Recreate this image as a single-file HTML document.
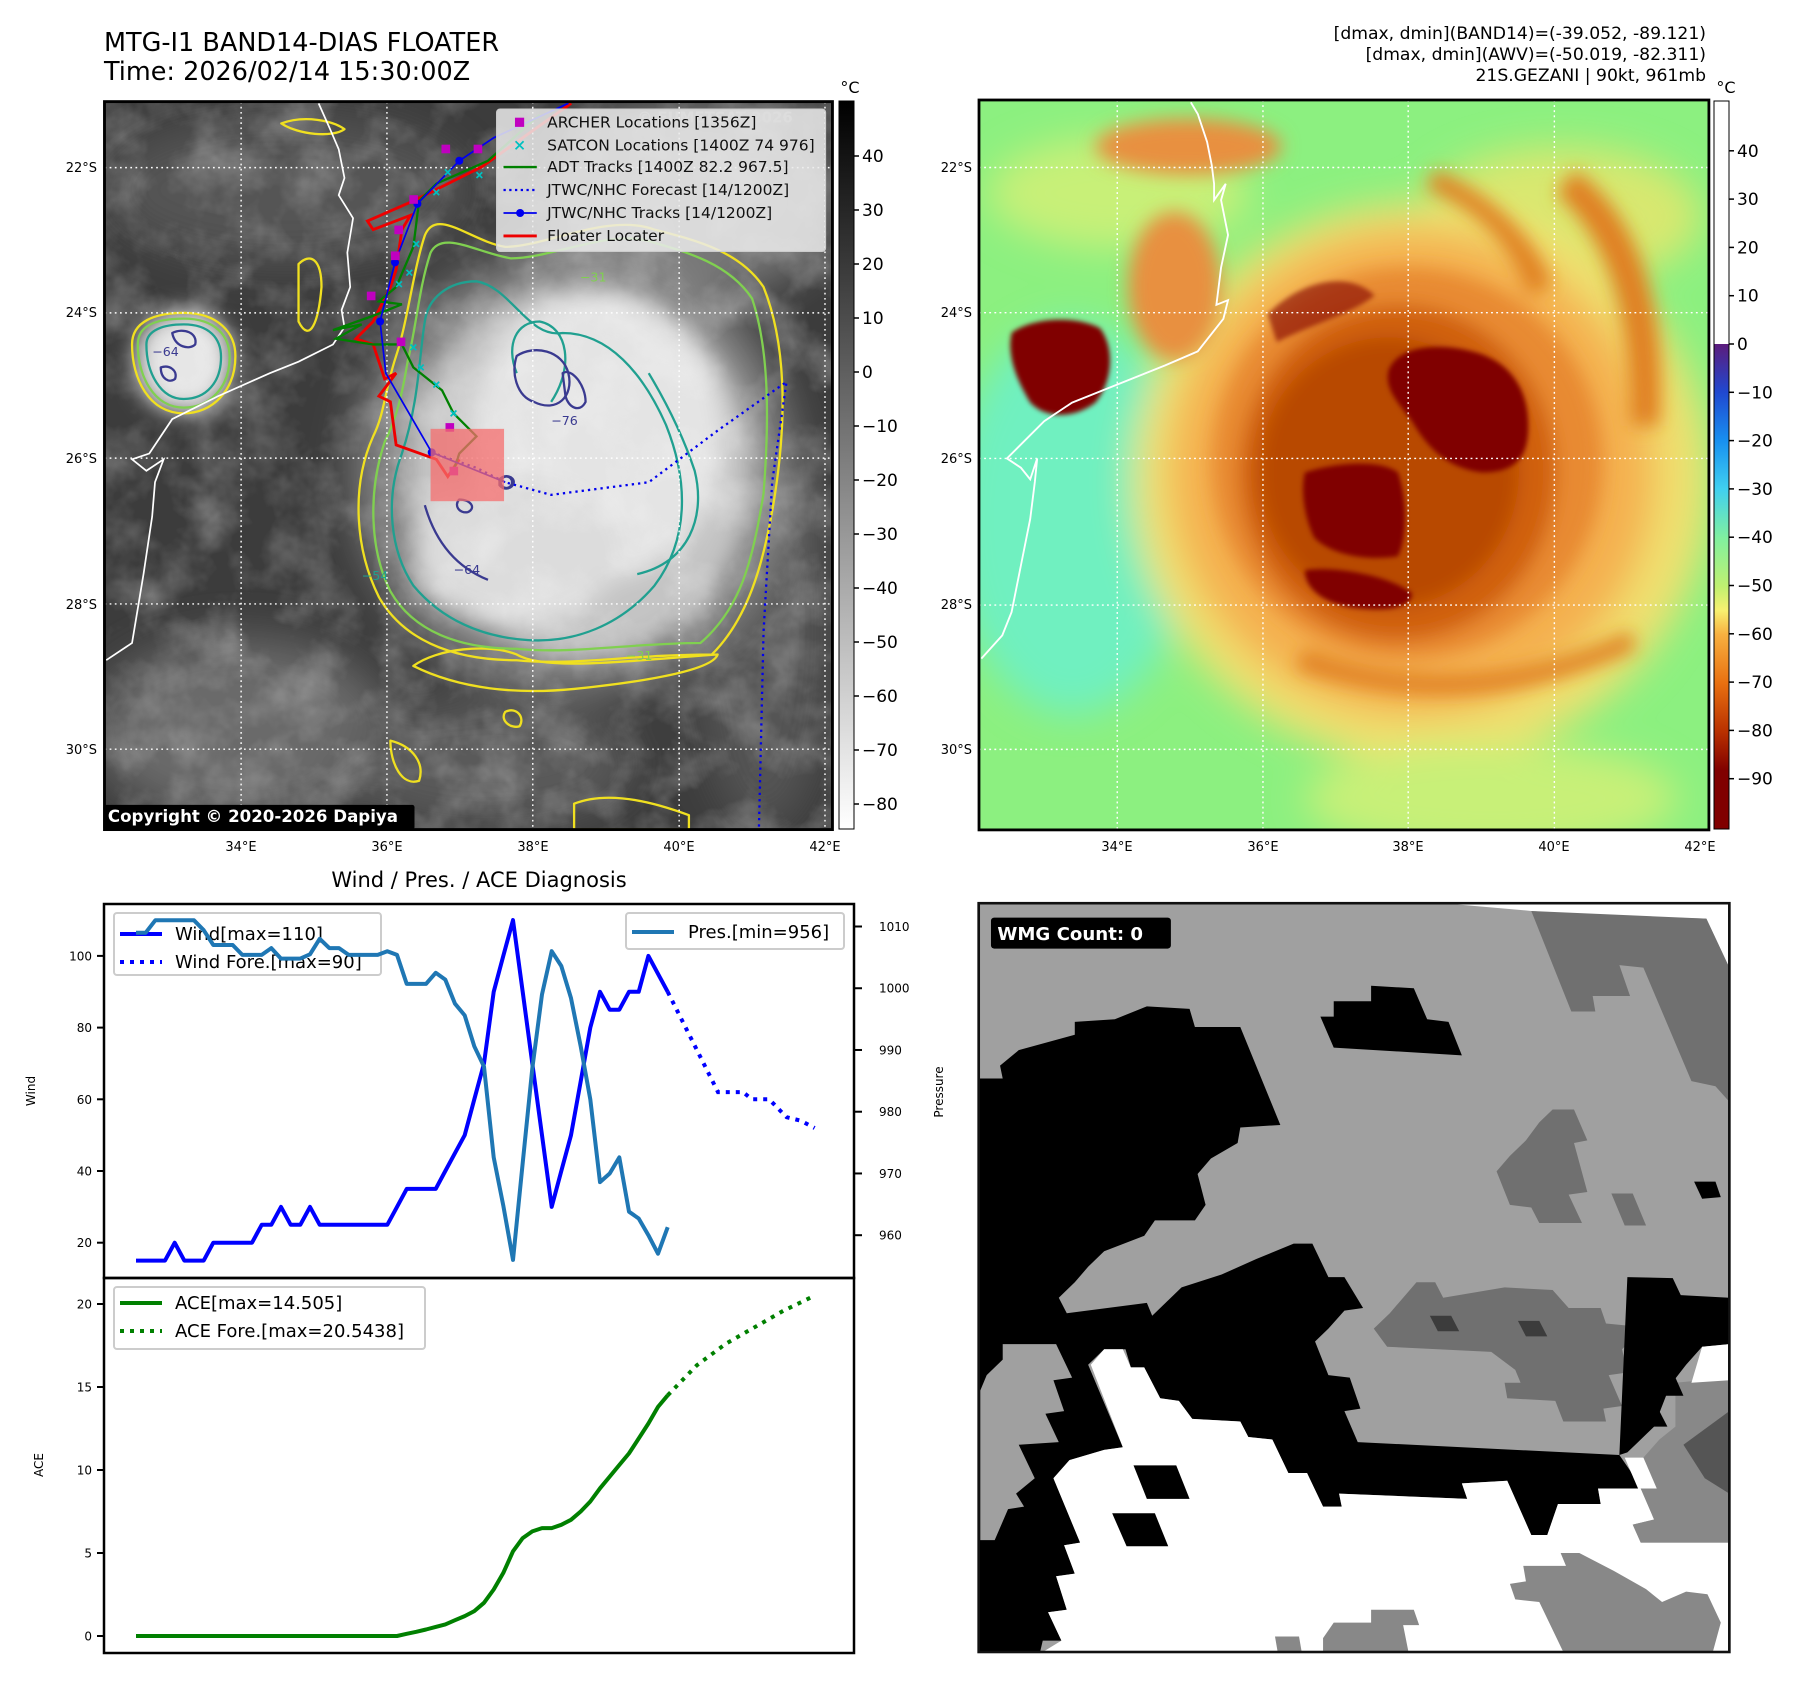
<!DOCTYPE html>
<html><head><meta charset="utf-8">
<style>
html,body{margin:0;padding:0;background:#fff;}
body{width:1797px;height:1690px;overflow:hidden;position:relative;font-family:"DejaVu Sans","Liberation Sans",sans-serif;}
svg text{font-family:"DejaVu Sans","Liberation Sans",sans-serif;}
</style></head>
<body>
<svg id="fig" width="1797" height="1690" viewBox="0 0 1797 1690" xmlns="http://www.w3.org/2000/svg" style="position:absolute;left:0;top:0">
<defs>
  <filter id="b40" x="-50%" y="-50%" width="200%" height="200%"><feGaussianBlur stdDeviation="40"/></filter>
  <filter id="b20" x="-50%" y="-50%" width="200%" height="200%"><feGaussianBlur stdDeviation="20"/></filter>
  <filter id="b10" x="-50%" y="-50%" width="200%" height="200%"><feGaussianBlur stdDeviation="10"/></filter>
  <filter id="b5" x="-50%" y="-50%" width="200%" height="200%"><feGaussianBlur stdDeviation="5"/></filter>
  <filter id="tex" x="0" y="0" width="100%" height="100%">
    <feTurbulence type="fractalNoise" baseFrequency="0.012" numOctaves="4" seed="3"/>
    <feColorMatrix type="matrix" values="0 0 0 0 1  0 0 0 0 1  0 0 0 0 1  0.9 0.9 0 0 -0.75"/>
  </filter>
  <clipPath id="clip1"><rect x="182" y="177" width="1268" height="1268"/></clipPath>
  <clipPath id="clip2"><rect x="0" y="0" width="1568" height="1568"/></clipPath>
  <clipPath id="clip3"><rect x="35" y="45" width="1406" height="1452"/></clipPath>
  <linearGradient id="cb1" x1="0" y1="0" x2="0" y2="1">
    <stop offset="0" stop-color="#000"/><stop offset="1" stop-color="#fff"/>
  </linearGradient>
  <linearGradient id="cb2" x1="0" y1="0" x2="0" y2="1">
    <stop offset="0" stop-color="#fff"/>
    <stop offset="0.3337" stop-color="#fff"/>
    <stop offset="0.3338" stop-color="#5c1c7c"/>
    <stop offset="0.40" stop-color="#2048d0"/>
    <stop offset="0.467" stop-color="#1890f0"/>
    <stop offset="0.533" stop-color="#40d0f0"/>
    <stop offset="0.60" stop-color="#80f0a0"/>
    <stop offset="0.667" stop-color="#c0f070"/>
    <stop offset="0.70" stop-color="#f8f070"/>
    <stop offset="0.733" stop-color="#f8b040"/>
    <stop offset="0.80" stop-color="#e87010"/>
    <stop offset="0.867" stop-color="#b83000"/>
    <stop offset="0.92" stop-color="#800000"/>
    <stop offset="1" stop-color="#800000"/>
  </linearGradient>
</defs>

<!-- ================= TOP LEFT MAP ================= -->
<text x="104" y="51" font-size="25.5">MTG-I1 BAND14-DIAS FLOATER</text>
<text x="104" y="80" font-size="25.5">Time: 2026/02/14 15:30:00Z</text>

<g transform="scale(0.5741)">
  <g clip-path="url(#clip1)">
    <rect x="182" y="177" width="1268" height="1268" fill="#3c3c3c"/>
    <g filter="url(#b40)">
      <ellipse cx="500" cy="330" rx="320" ry="130" fill="#555"/>
      <ellipse cx="1200" cy="350" rx="260" ry="170" fill="#777"/>
      <ellipse cx="420" cy="1270" rx="260" ry="160" fill="#6a6a6a"/>
      <ellipse cx="850" cy="1330" rx="260" ry="110" fill="#5a5a5a"/>
      <ellipse cx="1330" cy="1100" rx="120" ry="350" fill="#555"/>
      <ellipse cx="1000" cy="820" rx="380" ry="380" fill="#8a8a8a"/>
    </g>
    <g filter="url(#b20)">
      <ellipse cx="1010" cy="820" rx="300" ry="320" fill="#c4c4c4"/>
      <ellipse cx="1040" cy="760" rx="220" ry="250" fill="#e4e4e4"/>
      <ellipse cx="900" cy="960" rx="180" ry="130" fill="#dcdcdc"/>
      <ellipse cx="320" cy="630" rx="85" ry="90" fill="#e6e6e6"/>
    </g>
    <rect x="182" y="177" width="1268" height="1268" filter="url(#tex)" opacity="0.4"/>
    <g fill="none" stroke-width="4" stroke-linejoin="round">
      <path stroke="#f0e020" d="M650,760 C610,850 620,960 660,1040 C700,1110 780,1150 900,1150 C1000,1160 1100,1140 1240,1140 C1300,1080 1330,990 1350,860 C1370,730 1370,600 1330,500 C1290,440 1220,420 1140,400 C1060,370 950,430 880,430 C820,420 760,360 740,410 C720,470 710,560 690,620 C670,680 670,720 650,760 Z"/>
      <path stroke="#f0e020" d="M230,600 C230,560 270,545 320,545 C380,545 410,580 410,620 C410,680 370,720 320,720 C260,720 230,660 230,600 Z"/>
      <path stroke="#f0e020" d="M720,1160 C760,1130 850,1120 900,1140 C950,1170 1100,1150 1250,1140 C1240,1170 1100,1190 1000,1200 C900,1210 800,1200 720,1160 Z"/>
      <path stroke="#f0e020" d="M520,460 C540,440 560,450 560,500 C555,560 540,600 520,560 Z"/>
      <path stroke="#f0e020" d="M490,215 C530,200 580,210 600,225 C580,240 520,235 490,215 Z"/>
      <path stroke="#f0e020" d="M1000,1400 C1050,1380 1120,1390 1200,1420 L1200,1445 L1000,1445 Z"/>
      <path stroke="#f0e020" d="M880,1240 C900,1230 915,1250 905,1265 C890,1270 870,1255 880,1240 Z"/>
      <path stroke="#f0e020" d="M680,1290 C720,1300 740,1330 730,1360 C700,1370 680,1330 680,1290 Z"/>
      <path stroke="#80d050" d="M670,770 C640,860 645,960 680,1030 C720,1100 800,1130 900,1130 C1000,1140 1100,1120 1220,1120 C1290,1060 1310,980 1330,860 C1340,730 1340,610 1310,520 C1270,460 1200,440 1130,420 C1060,400 960,450 890,450 C830,440 770,400 750,440 C730,500 725,570 710,630 C700,690 690,730 670,770 Z"/>
      <path stroke="#80d050" d="M240,600 C240,565 275,555 320,555 C375,555 400,585 400,622 C400,675 365,710 320,710 C268,710 240,655 240,600 Z"/>
      <path stroke="#20a090" d="M700,790 C670,870 680,960 720,1020 C770,1080 840,1110 920,1115 C1000,1120 1080,1090 1140,1020 C1200,940 1200,840 1160,740 C1120,650 1060,580 980,580 C920,590 890,500 830,490 C780,490 745,520 740,560 C730,620 730,700 700,790 Z"/>
      <path stroke="#20a090" d="M255,600 C255,575 285,565 320,565 C365,565 385,590 385,622 C385,665 360,695 320,695 C280,695 255,650 255,600 Z"/>
      <path stroke="#20a090" d="M1110,1000 C1200,980 1230,900 1210,820 C1190,760 1160,700 1130,650"/>
      <path stroke="#20a090" d="M900,650 C880,600 900,560 940,560 C990,570 1000,640 960,700"/>
      <path stroke="#3a3a90" d="M900,620 C930,600 980,610 990,650 C1000,690 970,720 930,700 C900,690 890,650 900,620 Z"/>
      <path stroke="#3a3a90" d="M740,880 C760,950 800,990 850,1010"/>
      <path stroke="#3a3a90" d="M870,835 C880,825 895,830 895,840 C893,852 878,855 870,845 Z"/>
      <path stroke="#3a3a90" d="M800,870 C820,870 830,885 815,892 C800,895 790,880 800,870 Z"/>
      <path stroke="#3a3a90" d="M300,580 C320,570 345,580 340,600 C330,610 305,605 300,580 Z"/>
      <path stroke="#3a3a90" d="M280,640 C295,635 310,645 305,660 C295,668 280,660 280,640 Z"/>
      <path stroke="#3a3a90" d="M980,650 C995,640 1020,670 1020,700 C1010,720 990,710 985,690 Z"/>
    </g>
    <g font-size="22" fill="#20a090">
      <text x="960" y="740" fill="#3a3a90">−76</text>
      <text x="790" y="1000" fill="#3a3a90">−64</text>
      <text x="265" y="620" fill="#3a3a90">−64</text>
      <text x="630" y="1010">−54</text>
      <text x="1010" y="490" fill="#80d050">−31</text>
      <text x="1090" y="1150" fill="#80d050">−31</text>
    </g>
    <g stroke="#fff" stroke-width="2.5" stroke-dasharray="3,6">
      <line x1="182" y1="292" x2="1450" y2="292"/><line x1="182" y1="545" x2="1450" y2="545"/>
      <line x1="182" y1="798" x2="1450" y2="798"/><line x1="182" y1="1052" x2="1450" y2="1052"/>
      <line x1="182" y1="1305" x2="1450" y2="1305"/>
      <line x1="420" y1="177" x2="420" y2="1445"/><line x1="674" y1="177" x2="674" y2="1445"/>
      <line x1="928" y1="177" x2="928" y2="1445"/><line x1="1183" y1="177" x2="1183" y2="1445"/>
      <line x1="1437" y1="177" x2="1437" y2="1445"/>
    </g>
    <path fill="none" stroke="#fff" stroke-width="3" d="M555,180 L575,225 L590,260 L600,310 L590,340 L615,380 L605,440 L610,500 L595,540 L600,570 L580,600 L520,630 L470,650 L380,690 L300,730 L260,790 L230,800 L255,820 L285,800 L270,840 L265,900 L250,1000 L240,1060 L230,1120 L185,1150"/>
    <path fill="none" stroke="#0000ee" stroke-width="4" stroke-dasharray="4,7" d="M752,788 L830,815 L880,840 L960,862 L1130,840 L1250,750 L1370,665 L1345,840 L1330,1100 L1322,1440"/>
    <path fill="none" stroke="#ee0000" stroke-width="5" d="M995,180 L840,290 L720,350 L640,385 L650,400 L715,375 L700,400 L690,470 L680,500 L650,560 L620,590 L650,600 L670,660 L690,650 L660,690 L680,700 L690,775 L760,800 L780,830 L800,800"/>
    <path fill="none" stroke="#008000" stroke-width="4" d="M940,200 L850,280 L760,320 L730,350 L720,430 L690,500 L660,525 L700,530 L650,550 L580,575 L630,565 L585,590 L650,600 L700,600 L720,640 L770,680 L790,720 L830,760 L800,790 L790,820"/>
    <path fill="none" stroke="#0000ee" stroke-width="3" d="M990,180 L860,240 L800,280 L727,355 L688,457 L662,560 L672,650 L752,788 L880,840"/>
    <g fill="#0000ee">
      <circle cx="800" cy="280" r="7"/><circle cx="727" cy="355" r="7"/><circle cx="688" cy="457" r="7"/><circle cx="662" cy="560" r="7"/><circle cx="752" cy="788" r="7"/>
    </g>
    <circle cx="882" cy="840" r="10" fill="none" stroke="#3a3a90" stroke-width="4"/>
    <g fill="#c000c0">
      <rect x="769" y="252" width="15" height="15"/><rect x="825" y="252" width="15" height="15"/><rect x="713" y="340" width="15" height="15"/><rect x="687" y="393" width="15" height="15"/><rect x="681" y="438" width="15" height="15"/><rect x="639" y="508" width="15" height="15"/><rect x="691" y="588" width="15" height="15"/><rect x="776" y="737" width="15" height="15"/><rect x="783" y="813" width="15" height="15"/>
    </g>
    <g stroke="#00c0c0" stroke-width="3">
      <path d="M775,295 l10,10 m0,-10 l-10,10 M755,330 l10,10 m0,-10 l-10,10 M720,420 l10,10 m0,-10 l-10,10 M708,470 l10,10 m0,-10 l-10,10 M690,490 l10,10 m0,-10 l-10,10 M728,635 l10,10 m0,-10 l-10,10 M755,665 l10,10 m0,-10 l-10,10 M785,715 l10,10 m0,-10 l-10,10 M715,600 l10,10 m0,-10 l-10,10 M830,300 l10,10 m0,-10 l-10,10"/>
    </g>
    <rect x="750" y="747" width="128" height="126" fill="rgba(245,110,110,0.75)"/>
  </g>
  <rect x="182" y="177" width="1268" height="1268" fill="none" stroke="#000" stroke-width="5"/>
  <g>
    <rect x="865" y="190" width="573" height="248" rx="6" fill="rgba(235,235,235,0.85)" stroke="#ccc" stroke-width="2"/>
    <text x="1110" y="213" font-size="26" font-weight="bold" fill="#ddd">© EUMETSAT 2026</text>
    <rect x="897" y="205" width="16" height="16" fill="#c000c0"/>
    <path d="M898,246 l14,14 m0,-14 l-14,14" stroke="#00c0c0" stroke-width="3"/>
    <line x1="877" y1="291" x2="935" y2="291" stroke="#008000" stroke-width="4"/>
    <line x1="877" y1="331" x2="935" y2="331" stroke="#0000ee" stroke-width="4" stroke-dasharray="4,6"/>
    <line x1="877" y1="371" x2="935" y2="371" stroke="#0000ee" stroke-width="3"/><circle cx="906" cy="371" r="7" fill="#0000ee"/>
    <line x1="877" y1="411" x2="935" y2="411" stroke="#ee0000" stroke-width="5"/>
    <g font-size="27" fill="#111">
      <text x="953" y="222">ARCHER Locations [1356Z]</text>
      <text x="953" y="262">SATCON Locations [1400Z 74 976]</text>
      <text x="953" y="300">ADT Tracks [1400Z 82.2 967.5]</text>
      <text x="953" y="340">JTWC/NHC Forecast [14/1200Z]</text>
      <text x="953" y="380">JTWC/NHC Tracks [14/1200Z]</text>
      <text x="953" y="420">Floater Locater</text>
    </g>
  </g>
  <g>
    <rect x="180" y="1402" width="542" height="43" rx="4" fill="#000"/>
    <text x="188" y="1432" font-size="29" font-weight="bold" fill="#fff">Copyright © 2020-2026 Dapiya</text>
  </g>
</g>

<g font-size="13" text-anchor="end">
  <text x="97" y="172">22°S</text><text x="97" y="317">24°S</text><text x="97" y="463">26°S</text><text x="97" y="609">28°S</text><text x="97" y="754">30°S</text>
</g>
<g font-size="13" text-anchor="middle">
  <text x="241" y="851">34°E</text><text x="387" y="851">36°E</text><text x="533" y="851">38°E</text><text x="679" y="851">40°E</text><text x="825" y="851">42°E</text>
</g>
<g>
  <rect x="839" y="101" width="15" height="728" fill="url(#cb1)" stroke="#000" stroke-width="1"/>
  <text x="850" y="93" font-size="16" text-anchor="middle">°C</text>
  <g id="cb1ticks" font-size="17"></g>
</g>

<!-- ================= TOP RIGHT MAP ================= -->
<g transform="translate(979,100) scale(0.4655)">
  <g clip-path="url(#clip2)">
    <rect x="0" y="0" width="1568" height="1568" fill="#8cf080"/>
    <g filter="url(#b40)">
      <ellipse cx="200" cy="900" rx="260" ry="420" fill="#70f0c0"/>
      <ellipse cx="300" cy="200" rx="280" ry="120" fill="#c8f078"/>
      <ellipse cx="1250" cy="250" rx="300" ry="150" fill="#d8e870"/>
      <ellipse cx="950" cy="820" rx="620" ry="600" fill="#f0e070"/>
      <ellipse cx="930" cy="800" rx="520" ry="520" fill="#f4b050"/>
      <ellipse cx="1100" cy="1500" rx="400" ry="120" fill="#c8f078"/>
    </g>
    <g filter="url(#b20)">
      <ellipse cx="920" cy="780" rx="420" ry="420" fill="#e88a30"/>
      <ellipse cx="900" cy="800" rx="340" ry="360" fill="#d06010"/>
      <ellipse cx="880" cy="800" rx="280" ry="290" fill="#b84800"/>
      <path d="M1280,150 C1420,250 1480,450 1460,700 L1400,700 C1400,450 1350,300 1240,200 Z" fill="#e08020"/>
      <path d="M980,150 C1100,200 1200,300 1230,400 L1180,420 C1140,300 1060,230 960,190 Z" fill="#e08020"/>
      <path d="M700,1180 C900,1260 1150,1260 1400,1140 L1410,1180 C1150,1300 900,1300 680,1220 Z" fill="#e08020"/>
      <ellipse cx="450" cy="100" rx="200" ry="60" fill="#e89040"/>
      <ellipse cx="420" cy="400" rx="100" ry="160" fill="#e89040"/>
    </g>
    <g filter="url(#b5)" fill="#800000">
      <path d="M880,580 C900,530 980,520 1060,540 C1140,560 1180,620 1180,700 C1180,770 1150,800 1080,800 C1000,790 960,740 930,690 C900,650 870,620 880,580 Z"/>
      <path d="M700,800 C760,780 860,770 900,800 C920,860 920,940 900,980 C840,990 760,980 720,940 C700,900 690,840 700,800 Z"/>
      <path d="M700,1010 C760,1000 880,1020 930,1060 C930,1090 880,1100 800,1090 C740,1080 700,1050 700,1010 Z"/>
      <path d="M70,500 C110,470 200,460 260,490 C290,530 290,600 250,650 C210,680 150,690 110,650 C80,600 60,550 70,500 Z"/>
      <path d="M620,460 C700,380 800,370 850,420 C800,460 720,480 640,520 Z" opacity="0.6"/>
    </g>
    <g stroke="#fff" stroke-width="3" stroke-dasharray="4,7">
      <line x1="0" y1="145" x2="1568" y2="145"/><line x1="0" y1="457" x2="1568" y2="457"/>
      <line x1="0" y1="770" x2="1568" y2="770"/><line x1="0" y1="1085" x2="1568" y2="1085"/>
      <line x1="0" y1="1395" x2="1568" y2="1395"/>
      <line x1="297" y1="0" x2="297" y2="1568"/><line x1="610" y1="0" x2="610" y2="1568"/>
      <line x1="922" y1="0" x2="922" y2="1568"/><line x1="1236" y1="0" x2="1236" y2="1568"/>
    </g>
    <path fill="none" stroke="#fff" stroke-width="4" d="M455,5 L470,30 L490,90 L500,140 L505,180 L505,215 L530,180 L520,215 L535,290 L520,360 L510,440 L535,430 L525,470 L470,540 L400,570 L300,610 L200,650 L140,690 L100,730 L60,770 L90,790 L110,815 L125,770 L120,820 L110,900 L90,1000 L70,1100 L50,1150 L5,1200"/>
  </g>
  <rect x="0" y="0" width="1568" height="1568" fill="none" stroke="#000" stroke-width="6"/>
</g>
<g font-size="13" text-anchor="end">
  <text x="972" y="172">22°S</text><text x="972" y="317">24°S</text><text x="972" y="463">26°S</text><text x="972" y="609">28°S</text><text x="972" y="754">30°S</text>
</g>
<g font-size="13" text-anchor="middle">
  <text x="1117" y="851">34°E</text><text x="1263" y="851">36°E</text><text x="1408" y="851">38°E</text><text x="1554" y="851">40°E</text><text x="1700" y="851">42°E</text>
</g>
<g font-size="17.2" text-anchor="end">
  <text x="1706" y="39">[dmax, dmin](BAND14)=(-39.052, -89.121)</text>
  <text x="1706" y="60">[dmax, dmin](AWV)=(-50.019, -82.311)</text>
  <text x="1706" y="81">21S.GEZANI | 90kt, 961mb</text>
</g>
<g>
  <rect x="1714" y="101" width="15" height="728" fill="url(#cb2)" stroke="#000" stroke-width="1"/>
  <text x="1726" y="93" font-size="16" text-anchor="middle">°C</text>
  <g id="cb2ticks" font-size="17"></g>
</g>

<!-- ================= WMG PANEL ================= -->
<g transform="translate(960,880) scale(0.5339,0.5157)">
  <g clip-path="url(#clip3)">
    <rect x="35" y="45" width="1406" height="1452" fill="#a0a0a0"/>
    <polygon fill="#fff" points="905,45 1441,45 1441,170 1398,75 1170,68 1070,60"/>
    <polygon fill="#707070" points="1070,60 1398,75 1441,170 1441,430 1415,400 1370,390 1280,170 1235,165 1255,225 1185,225 1190,255 1145,255"/>
    <polygon fill="#000" points="38,385 80,385 75,360 110,330 215,300 215,275 290,270 350,245 430,250 440,285 525,285 600,475 525,480 520,510 470,540 445,570 460,630 440,660 365,660 345,690 270,720 240,750 215,780 185,810 200,840 350,820 360,845 415,790 490,765 555,735 625,705 660,705 690,770 720,770 755,830 720,835 690,870 665,895 690,960 730,965 750,1025 720,1030 745,1090 1235,1115 1255,1145 1275,1180 1195,1180 1200,1210 1120,1210 1100,1270 1070,1270 1025,1165 940,1170 950,1200 710,1190 715,1215 680,1215 650,1150 615,1150 585,1085 540,1080 525,1050 435,1045 410,1010 375,1005 345,945 320,945 310,910 270,910 240,940 305,1100 270,1105 205,1125 175,1160 225,1285 195,1290 215,1345 180,1350 200,1415 165,1420 190,1475 155,1475 150,1497 35,1497 35,385"/>
    <polygon fill="#a0a0a0" points="38,990 50,960 80,930 80,900 180,900 210,965 175,970 195,1030 160,1035 185,1090 110,1095 140,1160 105,1190 120,1215 90,1220 65,1280 38,1280"/>
    <polygon fill="#fff" points="245,940 270,910 305,910 320,945 345,945 375,1005 410,1010 435,1045 525,1050 540,1080 585,1085 615,1150 650,1150 680,1215 715,1215 710,1190 950,1200 940,1170 1025,1165 1070,1270 1100,1270 1120,1210 1200,1210 1195,1180 1275,1180 1300,1240 1260,1250 1275,1285 1441,1285 1441,1497 155,1497 190,1475 165,1420 200,1415 180,1350 215,1345 195,1290 225,1285 175,1160 205,1125 270,1105 305,1100"/>
    <polygon fill="#888" points="1030,1365 1060,1360 1055,1330 1135,1330 1125,1305 1160,1305 1225,1340 1285,1375 1315,1400 1360,1380 1400,1385 1425,1440 1410,1497 1130,1497 1085,1400 1040,1395"/>
    <polygon fill="#888" points="590,1467 635,1467 640,1497 595,1497"/>
    <polygon fill="#888" points="680,1470 700,1440 770,1440 770,1415 850,1415 860,1445 830,1445 840,1497 680,1497"/>
    <polygon fill="#000" points="675,265 700,265 700,235 770,235 770,205 850,210 875,270 915,275 940,340 700,325"/>
    <polygon fill="#000" points="325,1135 405,1135 430,1200 350,1200"/>
    <polygon fill="#000" points="285,1228 365,1228 390,1292 312,1292"/>
    <polygon fill="#000" points="1375,585 1415,585 1425,615 1390,618"/>
    <polygon fill="#707070" points="1005,565 1030,535 1060,505 1085,470 1110,445 1150,445 1175,505 1150,510 1175,605 1140,610 1165,665 1085,665 1070,635 1030,630"/>
    <polygon fill="#707070" points="1220,608 1260,608 1285,670 1245,670"/>
    <polygon fill="#707070" points="775,870 805,840 830,810 855,780 890,780 905,810 1020,790 1110,795 1140,830 1200,830 1210,860 1260,865 1260,890 1240,910 1250,955 1215,960 1240,1020 1205,1025 1210,1050 1130,1050 1115,1010 1025,1005 1020,975 1050,975 1040,950 995,915 800,905"/>
    <polygon fill="#3c3c3c" points="880,845 920,845 935,875 895,875"/>
    <polygon fill="#3c3c3c" points="1045,855 1085,855 1100,885 1060,885"/>
    <polygon fill="#000" points="1250,770 1335,772 1350,805 1441,810 1441,900 1390,905 1360,940 1330,980 1300,1060 1270,1090 1250,1110 1235,1115"/>
    <polygon fill="#888" points="1340,975 1441,965 1441,1285 1275,1285 1260,1250 1300,1240 1275,1180 1305,1180 1280,1120 1310,1085 1340,1060"/>
    <polygon fill="#fff" points="1390,905 1441,900 1441,970 1370,975"/>
    <polygon fill="#555" points="1355,1095 1441,1030 1441,1190 1395,1160"/>
    <polygon fill="#000" points="1300,965 1340,965 1355,1000 1315,1000"/>
    <polygon fill="#000" points="1270,1030 1310,1030 1325,1060 1285,1060"/>
    <polygon fill="#fff" points="1245,1120 1280,1120 1305,1180 1270,1180"/>
  </g>
  <rect x="35" y="45" width="1406" height="1452" fill="none" stroke="#111" stroke-width="5"/>
  <g>
    <rect x="58" y="73" width="337" height="60" rx="6" fill="#000"/>
    <text x="70" y="116" font-size="34" font-weight="bold" fill="#fff">WMG Count: 0</text>
  </g>
</g>

<!-- ================= DIAGNOSIS CHARTS ================= -->
<text x="479" y="887" font-size="21" text-anchor="middle">Wind / Pres. / ACE Diagnosis</text>
<g id="charts"></g>
<rect x="104" y="904" width="750" height="374" fill="none" stroke="#000" stroke-width="2.5"/>
<rect x="104" y="1278" width="750" height="375" fill="none" stroke="#000" stroke-width="2.5"/>
<text transform="translate(35,1091) rotate(-90)" font-size="12" text-anchor="middle">Wind</text>
<text transform="translate(943,1092) rotate(-90)" font-size="12" text-anchor="middle">Pressure</text>
<text transform="translate(43,1465) rotate(-90)" font-size="12" text-anchor="middle">ACE</text>
</svg>

<script>
const windIdx = [0,1,2,3,4,5,6,7,8,9,10,11,12,13,14,15,16,17,18,19,20,21,22,23,24,25,26,27,28,29,30,31,32,33,34,35,36,37,38,39,40,41,42,43,44,45,46,47,48,49,50,51,52,53,54,55];
const windVals = [15,15,15,15,20,15,15,15,20,20,20,20,20,25,25,30,25,25,30,25,25,25,25,25,25,25,25,30,35,35,35,35,40,45,50,60,70,90,100,110,90,70,50,30,40,50,65,80,90,85,85,90,90,100,95,90];
const windFcIdx = [55,60.2,62.8,63.7,65.5,67.3,68.8,70.2];
const windFcVals = [90,62,62,60,60,55,54,52];
const presVals = [1009,1009,1011,1011,1011,1011,1011,1009.4,1007,1007,1007,1005.4,1005.4,1005.4,1006.5,1004.8,1004.8,1004.8,1005.5,1008,1006.5,1006.5,1005.4,1005.4,1005.4,1005.4,1006,1005.4,1000.7,1000.7,1000.7,1002.5,1001.4,997.5,995.6,990.6,987.3,972.6,964.8,956,971.7,987,999,1006,1003.6,998.4,990.6,982,968.6,970,972.6,963.8,962.7,960,957,961.3];
const aceVals = [0,0,0,0,0,0,0,0,0,0,0,0,0,0,0,0,0,0,0,0,0,0,0,0,0,0,0,0,0.13,0.25,0.39,0.55,0.7,0.95,1.2,1.5,2.0,2.8,3.8,5.1,5.9,6.3,6.5,6.5,6.7,7.0,7.5,8.1,8.9,9.6,10.3,11.0,11.9,12.8,13.8,14.5];
const aceFcIdx = [55,58,61,64,67,70.2];
const aceFcVals = [14.5,16.3,17.6,18.6,19.6,20.5];
const windTicks = [20,40,60,80,100];
const presTicks = [960,970,980,990,1000,1010];
const aceTicks = [0,5,10,15,20];
const cb1Ticks = [40,30,20,10,0,-10,-20,-30,-40,-50,-60,-70,-80];
const cb2Ticks = [40,30,20,10,0,-10,-20,-30,-40,-50,-60,-70,-80,-90];

const xS = i => 136 + i * 9.667;
const yW = v => 1242.7 - (v - 20) * 3.585;
const yP = p => 1235.2 - (p - 960) * 6.174;
const yA = v => 1636 - v * 16.6;
const NS = 'http://www.w3.org/2000/svg';
const charts = document.getElementById('charts');
function mk(tag, attrs, parent) {
  const e = document.createElementNS(NS, tag);
  for (const k in attrs) e.setAttribute(k, attrs[k]);
  (parent || charts).appendChild(e);
  return e;
}
function pts(xs, ys, fy) { return xs.map((x, k) => xS(x).toFixed(1) + ',' + fy(ys[k]).toFixed(1)).join(' '); }

windTicks.forEach(v => {
  const t = mk('line', {x1: 97, x2: 104, y1: yW(v), y2: yW(v), stroke: '#000', 'stroke-width': 2});
  
  
  const l = mk('text', {x: 92, y: yW(v) + 4.5, 'font-size': 12, 'text-anchor': 'end'});
  l.textContent = v;
  
  
});
presTicks.forEach(v => {
  const t = mk('line', {x1: 854, x2: 862, y1: yP(v), y2: yP(v), stroke: '#000', 'stroke-width': 2});
  
  
  const l = mk('text', {x: 879, y: yP(v) + 4.5, 'font-size': 12});
  l.textContent = v;
  
  
});
aceTicks.forEach(v => {
  const t = mk('line', {x1: 97, x2: 104, y1: yA(v), y2: yA(v), stroke: '#000', 'stroke-width': 2});
  
  
  const l = mk('text', {x: 92, y: yA(v) + 4.5, 'font-size': 12, 'text-anchor': 'end'});
  l.textContent = v;
  
  
});

let s;
s = mk('polyline', {points: pts(windIdx, windVals, yW), fill: 'none', stroke: '#0000ff', 'stroke-width': 4, 'stroke-linejoin': 'round'});


s = mk('polyline', {points: pts(windFcIdx, windFcVals, yW), fill: 'none', stroke: '#0000ff', 'stroke-width': 4, 'stroke-dasharray': '4,6'});



const wl = mk('g', {});


mk('rect', {x: 114, y: 913, width: 267, height: 62, rx: 3, fill: 'rgba(255,255,255,0.8)', stroke: '#ccc', 'stroke-width': 2}, wl);
mk('line', {x1: 120, x2: 162, y1: 934, y2: 934, stroke: '#0000ff', 'stroke-width': 4}, wl);
mk('line', {x1: 120, x2: 162, y1: 962, y2: 962, stroke: '#0000ff', 'stroke-width': 4, 'stroke-dasharray': '4,6'}, wl);
let tt = mk('text', {x: 175, y: 940, 'font-size': 18}, wl); tt.textContent = 'Wind[max=110]';
tt = mk('text', {x: 175, y: 968, 'font-size': 18}, wl); tt.textContent = 'Wind Fore.[max=90]';

s = mk('polyline', {points: pts(windIdx, presVals, yP), fill: 'none', stroke: '#1f77b4', 'stroke-width': 4, 'stroke-linejoin': 'round'});



const pl = mk('g', {});


mk('rect', {x: 626, y: 913, width: 218, height: 36, rx: 3, fill: 'rgba(255,255,255,0.8)', stroke: '#ccc', 'stroke-width': 2}, pl);
mk('line', {x1: 632, x2: 674, y1: 932, y2: 932, stroke: '#1f77b4', 'stroke-width': 4}, pl);
tt = mk('text', {x: 688, y: 938, 'font-size': 18}, pl); tt.textContent = 'Pres.[min=956]';

s = mk('polyline', {points: pts(windIdx, aceVals, yA), fill: 'none', stroke: '#008000', 'stroke-width': 4, 'stroke-linejoin': 'round'});


s = mk('polyline', {points: pts(aceFcIdx, aceFcVals, yA), fill: 'none', stroke: '#008000', 'stroke-width': 4, 'stroke-dasharray': '4,6'});



const al = mk('g', {});


mk('rect', {x: 114, y: 1287, width: 311, height: 62, rx: 3, fill: 'rgba(255,255,255,0.8)', stroke: '#ccc', 'stroke-width': 2}, al);
mk('line', {x1: 120, x2: 162, y1: 1303, y2: 1303, stroke: '#008000', 'stroke-width': 4}, al);
mk('line', {x1: 120, x2: 162, y1: 1331, y2: 1331, stroke: '#008000', 'stroke-width': 4, 'stroke-dasharray': '4,6'}, al);
tt = mk('text', {x: 175, y: 1309, 'font-size': 18}, al); tt.textContent = 'ACE[max=14.505]';
tt = mk('text', {x: 175, y: 1337, 'font-size': 18}, al); tt.textContent = 'ACE Fore.[max=20.5438]';

const g1 = document.getElementById('cb1ticks');
cb1Ticks.forEach(v => {
  const y = 156 + (40 - v) * 5.4;
  mk('line', {x1: 854, x2: 859, y1: y, y2: y, stroke: '#000', 'stroke-width': 1.5}, g1);
  const l = mk('text', {x: 862, y: y + 6}, g1);
  l.textContent = v < 0 ? '\u2212' + (-v) : String(v);
  
  
});
const g2 = document.getElementById('cb2ticks');
cb2Ticks.forEach(v => {
  const y = 344 - v * 4.83;
  mk('line', {x1: 1729, x2: 1734, y1: y, y2: y, stroke: '#000', 'stroke-width': 1.5}, g2);
  const l = mk('text', {x: 1737, y: y + 6}, g2);
  l.textContent = v < 0 ? '\u2212' + (-v) : String(v);
  
  
});
</script>
</body></html>
